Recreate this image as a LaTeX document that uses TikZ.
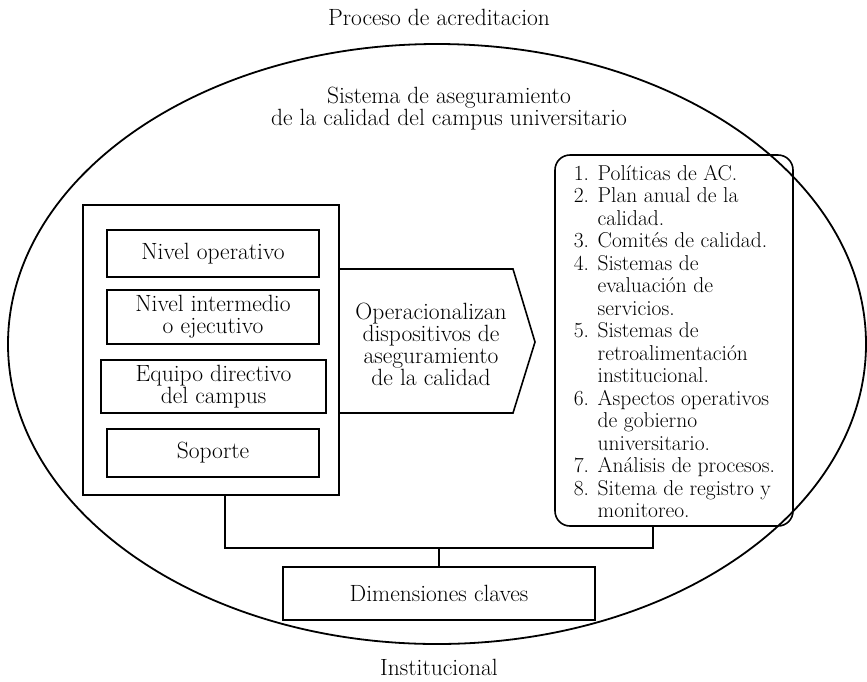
\documentclass[tikz,border=0pt]{standalone}
\usepackage{fontspec}
\newcommand\myfontA{\fontsize{23.5}{22}\selectfont\lineskiplimit=-30pt\relax}
\newcommand\myfontB{\fontsize{21.5}{22.5}\selectfont\lineskiplimit=-30pt\relax}
\begin{document}
\begin{tikzpicture}[x=1pt,y=-1pt, line width=1.6pt,
  txt/.style={font=\myfontA, inner sep=0pt},
  box/.style={draw, txt, align=center}]
\useasboundingbox (0,0) rectangle (867,681);
\draw[line width=1.8pt] (437,344) ellipse [x radius=429, y radius=300];
\node[txt] (title) at (439,17) {Proceso de acreditacion};
\node[txt, align=center] (sys) at (449,109) {Sistema de aseguramiento\\de la calidad del campus universitario};
\node[draw, minimum width=256, minimum height=290, inner sep=0pt] (lbox) at (211,350) {};
\node[box, minimum width=212, minimum height=47] (n1) at (213,253.5) {Nivel operativo};
\node[box, minimum width=212, minimum height=54] (n2) at (213,317) {Nivel intermedio\\o ejecutivo};
\node[box, minimum width=225, minimum height=53] (n3) at (213.5,386.5) {Equipo directivo\\del campus};
\node[box, minimum width=212, minimum height=48] (n4) at (213,453) {Soporte};
\coordinate (a1) at (339,269);
\coordinate (a2) at (513,269);
\coordinate (a3) at (535,342);
\coordinate (a4) at (513,413);
\coordinate (a5) at (339,413);
\draw[line join=miter] (a1) -- (a2) -- (a3) -- (a4) -- (a5);
\node[txt, align=center] (op) at (431,344) {Operacionalizan\\dispositivos de\\aseguramiento\\de la calidad};
\node[draw, rounded corners=15pt, minimum width=238, minimum height=371, inner sep=0pt] (rbox) at (674,340.5) {};
\node[txt, align=left, anchor=north west, font=\myfontB] (list) at (573,164) {1. Políticas de AC.\\
2. Plan anual de la\\
\phantom{2. }calidad.\\
3. Comités de calidad.\\
4. Sistemas de\\
\phantom{4. }evaluación de\\
\phantom{4. }servicios.\\
5. Sistemas de\\
\phantom{5. }retroalimentación\\
\phantom{5. }institucional.\\
6. Aspectos operativos\\
\phantom{6. }de gobierno\\
\phantom{6. }universitario.\\
7. Análisis de procesos.\\
8. Sitema de registro y\\
\phantom{8. }monitoreo.};
\node[box, minimum width=312, minimum height=53] (dim) at (439,593.5) {Dimensiones claves};
\coordinate (j) at (439,548);
\draw ([xshift=14pt]lbox.south) |- (j) -| ([xshift=-21pt]rbox.south);
\draw (j) -- (dim.north);
\node[txt] (inst) at (439,667) {Institucional};
\end{tikzpicture}
\end{document}
